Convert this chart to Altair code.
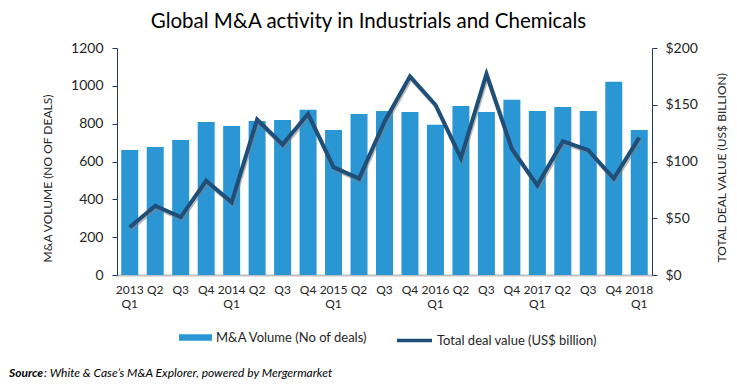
import altair as alt
import pandas as pd

periods = ["2013 Q1", "2013 Q2", "2013 Q3", "2013 Q4",
           "2014 Q1", "2014 Q2", "2014 Q3", "2014 Q4",
           "2015 Q1", "2015 Q2", "2015 Q3", "2015 Q4",
           "2016 Q1", "2016 Q2", "2016 Q3", "2016 Q4",
           "2017 Q1", "2017 Q2", "2017 Q3", "2017 Q4",
           "2018 Q1"]
volume = [661, 677, 714, 809, 788, 814, 820, 873, 767, 851, 867,
          862, 794, 894, 862, 926, 867, 888, 867, 1021, 767]
value_bn = [42, 61, 51, 83, 64, 137, 115, 142, 95, 85, 135,
            175, 150, 103, 177, 111, 79, 118, 110, 85, 121]

VOL_NAME = "M&A Volume (No of deals)"
VAL_NAME = "Total deal value (US$ billion)"

df = pd.DataFrame({"period": periods, "volume": volume, "value": value_bn,
                   "s1": VOL_NAME, "s2": VAL_NAME})

FONT = "Lato"
NAVY = "#1F3864"
BAR = "#2A96D4"
LINE = "#1F4E79"

x_enc = alt.X("period:N", sort=periods, title=None,
              scale=alt.Scale(paddingInner=0.333, paddingOuter=0.167),
              axis=alt.Axis(labelAngle=0, ticks=False, domainColor="#BFBFBF",
                            domainWidth=2, labelFontSize=12, labelPadding=9,
                            labelLineHeight=14, labelBaseline="top",
                            labelColor="#262626",
                            labelExpr="indexof(datum.value, 'Q1') >= 0 ? split(datum.value, ' ') : substring(datum.value, 5)"))

bars = alt.Chart(df).mark_bar(color=BAR).encode(
    x=x_enc,
    y=alt.Y("volume:Q", scale=alt.Scale(domain=[0, 1200]),
            axis=alt.Axis(values=[0, 200, 400, 600, 800, 1000, 1200], grid=False,
                          format="d",
                          title="M&A VOLUME (NO OF DEALS)", domainColor=NAVY,
                          tickColor=NAVY, tickSize=5, labelFontSize=14,
                          labelPadding=9, labelColor="#262626",
                          titleFontSize=12, titleFontWeight="normal",
                          titleColor="#262626", titleX=-70, titleY=214,
                          titleAlign="left", titleBaseline="middle", titleAngle=270)),
    fill=alt.Fill("s1:N", scale=alt.Scale(domain=[VOL_NAME], range=[BAR]),
                  legend=alt.Legend(title=None, orient="none", legendX=62, legendY=273,
                                    symbolType="M-1,-0.2H1V0.2H-1Z", symbolSize=1089,
                                    symbolStrokeWidth=0, labelOffset=4, padding=0,
                                    labelFontSize=13, labelColor="#262626")),
)

y_axis_right = alt.Axis(values=[0, 50, 100, 150, 200], grid=False, orient="right",
                        labelExpr="'$' + datum.value",
                        title="TOTAL DEAL VALUE (US$ BILLION)", domainColor=NAVY,
                        tickColor=NAVY, tickSize=5, labelFontSize=14,
                        labelPadding=8, labelColor="#262626",
                        titleFontSize=12, titleFontWeight="normal",
                        titleColor="#262626", titleX=69, titleY=214,
                        titleAlign="left", titleBaseline="middle", titleAngle=270)

y_val = alt.Y("value:Q", scale=alt.Scale(domain=[0, 200]), axis=y_axis_right)

shadow = alt.Chart(df).mark_line(color="#7F7F7F", opacity=0.55, strokeWidth=4,
                                 xOffset=1, yOffset=2).encode(
    x=alt.X("period:N", sort=periods),
    y=y_val,
)

line = alt.Chart(df).mark_line(strokeWidth=4, strokeJoin="miter").encode(
    x=alt.X("period:N", sort=periods),
    y=y_val,
    stroke=alt.Stroke("s2:N", scale=alt.Scale(domain=[VAL_NAME], range=[LINE]),
                      legend=alt.Legend(title=None, orient="none", legendX=278, legendY=273,
                                        symbolType="stroke", symbolSize=1225,
                                        symbolStrokeWidth=3.5, labelOffset=3, padding=0,
                                        labelFontSize=13, labelColor="#262626")),
)

lines = alt.layer(shadow, line)

src = pd.DataFrame({"a": ["Source"], "b": [": White & Case\u2019s M&A Explorer, powered by Mergermarket"]})
src_bold = alt.Chart(src).mark_text(align="left", baseline="middle", fontStyle="italic",
                                    fontWeight="bold", fontSize=12, font=FONT,
                                    color="#000000").encode(
    text="a:N", x=alt.value(-108), y=alt.value(325))
src_rest = alt.Chart(src).mark_text(align="left", baseline="middle", fontStyle="italic",
                                    fontSize=12, font=FONT, color="#000000").encode(
    text="b:N", x=alt.value(-73), y=alt.value(325))

chart = alt.layer(bars, lines, src_bold, src_rest).resolve_scale(
    y="independent", fill="independent", stroke="independent"
).properties(
    width=535, height=227,
    autosize=alt.AutoSizeParams(type="none"),
    padding={"left": 109, "top": 40, "right": 77, "bottom": 106},
    title=alt.TitleParams("Global M&A activity in Industrials and Chemicals",
                          anchor="middle", dx=-16, offset=9, fontSize=20.5,
                          fontWeight="normal", font=FONT, color="#000000"),
).configure(font=FONT).configure_view(stroke=None).configure_axis(
    labelFont=FONT, titleFont=FONT
).configure_legend(labelFont=FONT)

chart.save("out.html", embed_options={"renderer": "svg", "actions": False})
